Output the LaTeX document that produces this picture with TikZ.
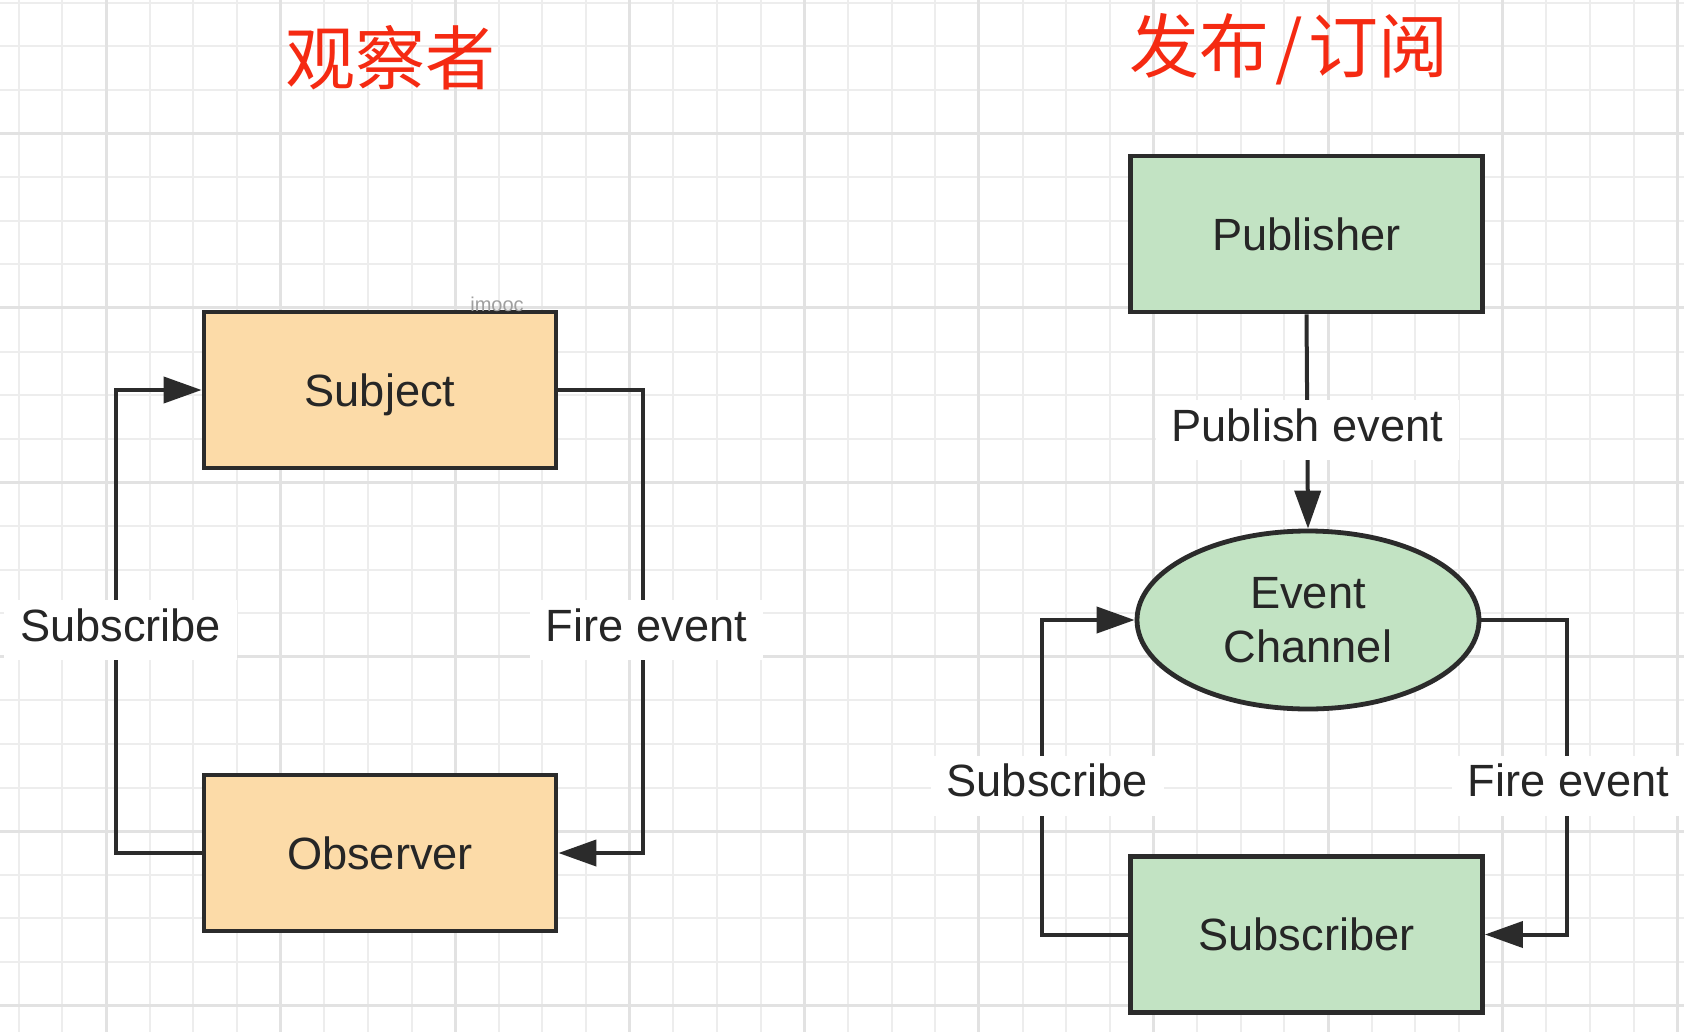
\documentclass[tikz,border=0pt]{standalone}
\usepackage{fontspec}
\setmainfont{Liberation Sans}
\newfontfamily\cjk{Noto Sans CJK SC}
\usetikzlibrary{shapes.geometric,arrows.meta}
\definecolor{peach}{HTML}{FCDBA8}
\definecolor{mint}{HTML}{C2E3C3}
\definecolor{ink}{HTML}{2B2B2B}
\definecolor{txt}{HTML}{262626}
\definecolor{titlered}{HTML}{F52A12}
\definecolor{gridminor}{HTML}{EDEDED}
\definecolor{gridmajor}{HTML}{E2E2E2}
\begin{document}
\begin{tikzpicture}[x=0.5pt,y=-0.5pt,
  gminor/.style={draw=gridminor, line width=1pt},
  gmajor/.style={draw=gridmajor, line width=1.5pt},
  box/.style={draw=ink, line width=2.4pt, minimum width=176pt, minimum height=78pt,
    inner sep=0pt, font=\fontsize{22.6}{27}\selectfont, text=txt,
    text height=18pt, text depth=1.9pt},
  orangebox/.style={box, fill=peach},
  greenbox/.style={box, fill=mint},
  ell/.style={ellipse, draw=ink, line width=2.4pt, fill=mint, minimum width=171pt,
    minimum height=89pt, inner sep=0pt, align=center,
    font=\fontsize{22.6}{27}\selectfont, text=txt},
  conn/.style={draw=ink, line width=2pt},
  arr/.style={conn, -{Triangle[length=19pt,width=13pt]}},
  lbl/.style={fill=white, text=txt, font=\fontsize{22.6}{27}\selectfont,
    inner xsep=8pt, inner ysep=4pt, text height=16.5pt, text depth=5.5pt, yshift=-4.3pt}
  ,
  ttl/.style={text=titlered, font=\cjk\fontsize{35}{40}\selectfont, inner sep=0pt,
    text height=30.8pt, text depth=4.2pt}
]
\useasboundingbox (0,0) rectangle (1684,1032);
\fill[white] (0,0) rectangle (1684,1032);
% grid
\foreach \i in {0,...,38} \draw[gminor] ({18.8+43.64*\i},0) -- ++(0,1032);
\foreach \i in {0,...,23} \draw[gminor] (0,{2.7+43.6*\i}) -- ++(1684,0);
\foreach \i in {0,...,9} \draw[gmajor] ({106.1+174.56*\i},0) -- ++(0,1032);
\foreach \i in {0,...,5} \draw[gmajor] (0,{133.5+174.4*\i}) -- ++(1684,0);

% titles
\node[ttl] (t1) at (390,57.5) {观察者};
\node[ttl] (t2) at (1289,45.5) {发布\hspace{3pt}/\hspace{3pt}订阅};

% observer pattern
\node[orangebox] (subj) at (380,390) {Subject};
\node[orangebox] (obs) at (380,853) {Observer};
\node[text=gray!75, font=\fontsize{10}{12}\selectfont, inner sep=0pt] (wm) at (497,304) {imooc};

\draw[arr] (obs.west) -- ++(-86,0) |- (subj.west)
  node[lbl,pos=0.25,xshift=2.5pt] {Subscribe};
\draw[arr] (subj.east) -- ++(85,0) |- (obs.east)
  node[lbl,pos=0.25,xshift=1.5pt] {Fire event};

% publish/subscribe pattern
\node[greenbox] (pub) at (1306.5,234) {Publisher};
\node[ell] (ch) at (1308,620) {Event\\Channel};
\node[greenbox] (sub) at (1306.5,934.5) {Subscriber};

\draw[arr] (pub.south) -- (ch.north) node[lbl,midway] {Publish event};
\draw[arr] (sub.west) -- ++(-86,0) |- (ch.west)
  node[lbl,pos=0.25,xshift=2.5pt] {Subscribe};
\draw[arr] (ch.east) -- ++(86,0) |- (sub.east)
  node[lbl,pos=0.25,xshift=0.5pt] {Fire event};
\end{tikzpicture}
\end{document}
